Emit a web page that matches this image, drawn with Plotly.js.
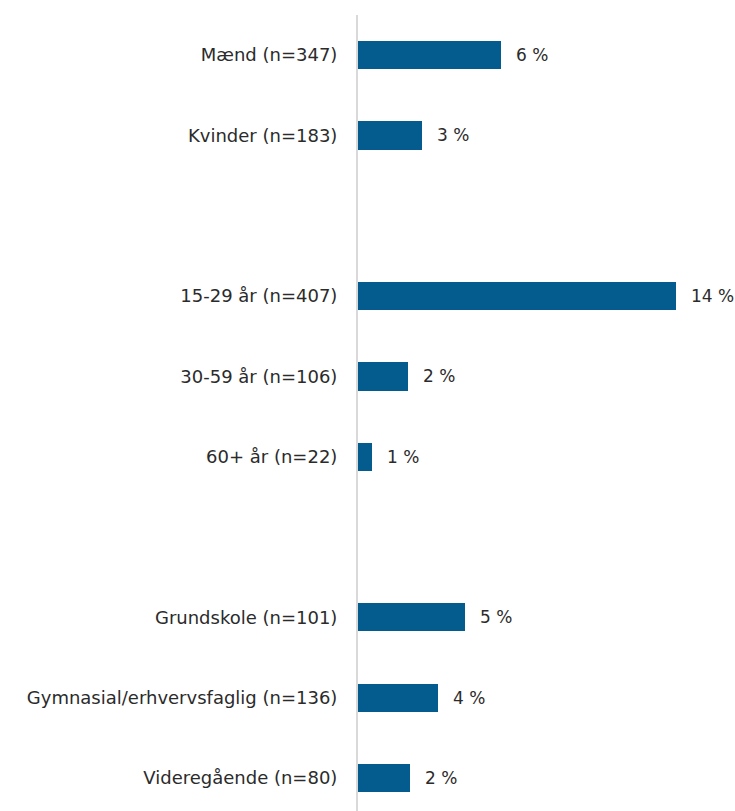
<!DOCTYPE html>
<html>
<head>
<meta charset="utf-8">
<script src="https://cdn.plot.ly/plotly-3.0.1.min.js"></script>
<style>html,body{margin:0;padding:0;background:#fff;}#chart{width:735px;height:811px;}</style>
</head>
<body>
<div id="chart"></div>
<script>
// Categories (blank entries are spacer rows between groups)
const categories = [
  "Mænd (n=347)", "Kvinder (n=183)", " ",
  "15-29 år (n=407)", "30-59 år (n=106)", "60+ år (n=22)", "  ",
  "Grundskole (n=101)", "Gymnasial/erhvervsfaglig (n=136)", "Videregående (n=80)"
];
const values = [6.3, 2.8, null, 14.0, 2.2, 0.6, null, 4.7, 3.5, 2.3];
const valueLabels = ["6 %", "3 %", "", "14 %", "2 %", "1 %", "", "5 %", "4 %", "2 %"];

const fontFam = "'DejaVu Sans', sans-serif";
const textColor = "#2b2b2b";

const trace = {
  type: "bar",
  orientation: "h",
  x: values,
  y: categories,
  width: 0.35,
  marker: {color: "#035b8e", line: {width: 0}},
  hoverinfo: "none"
};

const annotations = categories.map((c, i) => values[i] == null ? null : ({
  x: values[i], y: c, xref: "x", yref: "y",
  text: valueLabels[i], showarrow: false,
  xanchor: "left", yanchor: "middle", xshift: 13,
  font: {family: fontFam, size: 17, color: textColor}
})).filter(a => a);

const layout = {
  width: 735, height: 811,
  margin: {l: 358, r: 20, t: 15, b: 0},
  paper_bgcolor: "#fff", plot_bgcolor: "#fff",
  showlegend: false,
  bargap: 0,
  xaxis: {range: [0, 15.7], visible: false, showgrid: false, zeroline: false, fixedrange: true},
  yaxis: {
    type: "category",
    categoryorder: "array", categoryarray: categories,
    range: [9.41, -0.5],
    showline: true, linecolor: "#d9d9d9", linewidth: 2,
    showgrid: false, zeroline: false,
    ticks: "outside", ticklen: 15, tickcolor: "rgba(0,0,0,0)",
    tickfont: {family: fontFam, size: 18, color: textColor},
    fixedrange: true
  },
  annotations: annotations,
  font: {family: fontFam, color: textColor}
};

Plotly.newPlot("chart", [trace], layout, {displayModeBar: false, staticPlot: true});
</script>
</body>
</html>
